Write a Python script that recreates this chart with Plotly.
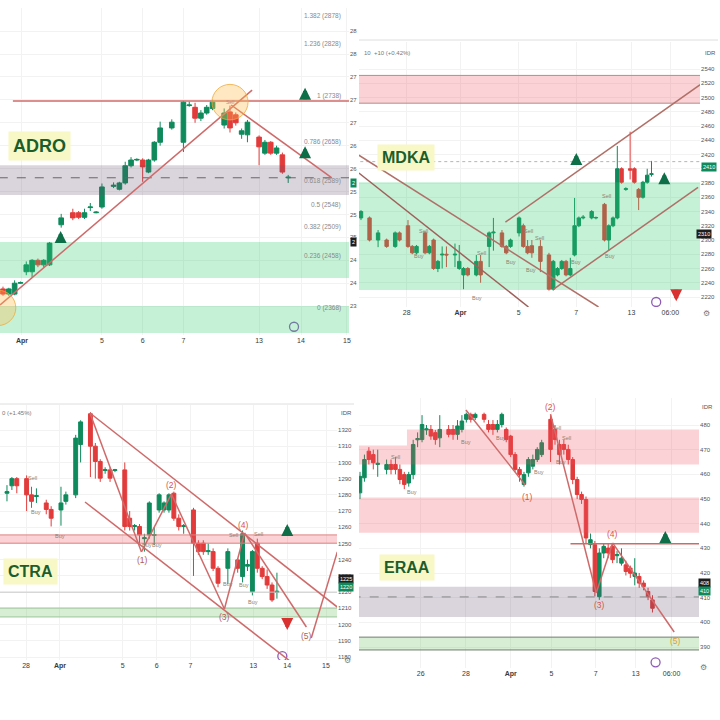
import plotly.graph_objects as go

W, H = 720, 720
FONT = "Liberation Sans, Arial, sans-serif"
GREEN = "#0e8a5c"
RED = "#e23b3b"
LINE_RED = "#cf6a6a"
LINE_BROWN = "#b07068"
ARROW_GREEN = "#0d6e48"
ARROW_RED = "#d93030"
ZONE_GREEN = "rgba(46,204,113,0.28)"
ZONE_RED = "rgba(240,80,90,0.25)"
ZONE_GRAY = "rgba(100,80,110,0.24)"
ZONE_GREEN2 = "rgba(110,190,100,0.28)"
LABEL_BG = "#f8f8c6"
LABEL_FG = "#1b5e2c"
PURPLE = "#8e5bb5"
TEXT_GRAY = "#8a8a8a"

# ====================== DATA ======================
# ---- ADRO (bar index, OHLC) ----
ADRO_X = [0, 1, 2, 3, 4, 5, 6, 7, 8, 10, 12, 13, 14, 15, 16, 17, 19, 20, 21, 22, 23, 24, 25, 26, 27,
          29, 31, 32, 33, 34, 35, 36, 38, 39, 40, 41, 42, 44, 45, 46, 47, 48, 49]
ADRO_OPEN = [2410, 2401, 2401, 2420, 2440, 2440, 2460, 2452, 2452, 2522, 2543, 2543, 2535, 2552, 2543, 2553,
             2589, 2584, 2595, 2625, 2635, 2635, 2614, 2635, 2666, 2691, 2666, 2730, 2727, 2708, 2717, 2725,
             2696, 2719, 2714, 2680, 2679, 2675, 2647, 2666, 2647, 2644, 2604]
ADRO_HIGH = [2414, 2412, 2425, 2423, 2458, 2462, 2463, 2462, 2492, 2541, 2550, 2546, 2550, 2560, 2546, 2594,
             2596, 2597, 2632, 2640, 2638, 2638, 2637, 2668, 2702, 2706, 2738, 2737, 2735, 2722, 2731, 2740,
             2725, 2730, 2718, 2690, 2705, 2678, 2670, 2668, 2660, 2648, 2609]
ADRO_LOW = [2398, 2398, 2399, 2419, 2434, 2430, 2448, 2448, 2450, 2517, 2530, 2532, 2532, 2546, 2542, 2550,
            2586, 2582, 2592, 2622, 2633, 2597, 2612, 2632, 2660, 2688, 2649, 2728, 2700, 2703, 2714, 2722,
            2690, 2683, 2695, 2672, 2666, 2626, 2644, 2644, 2644, 2611, 2595]
ADRO_CLOSE = [2401, 2410, 2420, 2421, 2452, 2460, 2452, 2460, 2490, 2534, 2534, 2535, 2543, 2553, 2544, 2588,
              2591, 2595, 2625, 2635, 2636, 2623, 2635, 2666, 2691, 2701, 2736, 2731, 2708, 2717, 2727, 2736,
              2717, 2691, 2700, 2686, 2701, 2658, 2666, 2647, 2656, 2614, 2605]
ADRO_XTICK_POS = [3.25, 17.0, 24.0, 31.0, 44.0, 51.2, 59.1]
ADRO_XTICK_TEXT = ["<b>Apr</b>", "5", "6", "7", "13", "14", "15"]
ADRO_YTICK_VALS = [2380, 2420, 2460, 2500, 2540, 2580, 2620, 2660, 2700, 2740, 2780, 2820, 2860]
ADRO_YTICK_TEXT = ["23", "24", "24", "25", "25", "25", "26", "26", "27", "27", "27", "28", "28"]
ADRO_FIB_RATIOS = ["0", "0.236", "0.382", "0.5", "0.618", "0.786", "1", "1.236", "1.382"]
ADRO_FIB_PRICES = [2368, 2458, 2509, 2548, 2589, 2658, 2738, 2828, 2878]
ADRO_RESISTANCE = 2738
ADRO_LAST = 2604
ADRO_GRAY_ZONE = (2574, 2626)
ADRO_GREEN_ZONES = [(2429, 2492), (2333, 2380)]
ADRO_TREND_UP = ([-0.5, 42.8], [2382, 2757])
ADRO_TREND_DOWN = ([39.2, 56.5], [2731, 2604])
ADRO_CIRCLES = [(39.0, 2736), (-0.9, 2377)]
ADRO_UP_ARROWS = [(51.9, 2761), (51.9, 2659), (9.9, 2511)]

# ---- MDKA ----
MDKA_X = [0, 2, 4, 6, 8, 9, 11, 12, 13, 15, 16, 17, 18, 19, 20, 22, 23, 24, 25, 27, 28, 30, 31, 33, 34, 35,
          37, 38, 39, 40, 42, 44, 45, 46, 47, 48, 49, 50, 51, 52, 54, 55, 57, 58, 59, 60, 61, 62, 63, 64,
          65, 66, 67, 68]
MDKA_OPEN = [2331, 2331, 2300, 2300, 2291, 2310, 2320, 2291, 2282, 2310, 2282, 2300, 2260, 2279, 2280,
             2279, 2260, 2251, 2260, 2251, 2270, 2291, 2310, 2310, 2291, 2291, 2310, 2320, 2291, 2292, 2291,
             2279, 2231, 2251, 2260, 2270, 2251, 2279, 2320, 2331, 2331, 2331, 2350, 2300, 2320, 2331,
             2400, 2371, 2400, 2400, 2371, 2360, 2381, 2392]
MDKA_HIGH = [2342, 2333, 2314, 2302, 2312, 2312, 2328, 2293, 2293, 2312, 2293, 2302, 2272, 2291, 2291,
             2295, 2293, 2262, 2262, 2279, 2279, 2312, 2331, 2314, 2293, 2302, 2333, 2323, 2300, 2300, 2300,
             2282, 2272, 2262, 2272, 2272, 2275, 2359, 2333, 2335, 2342, 2333, 2352, 2322, 2333, 2432,
             2402, 2374, 2452, 2402, 2373, 2383, 2400, 2411]
MDKA_LOW = [2328, 2298, 2290, 2289, 2289, 2298, 2289, 2280, 2280, 2280, 2280, 2258, 2255, 2260, 2262,
            2262, 2258, 2231, 2249, 2249, 2240, 2262, 2285, 2289, 2280, 2289, 2305, 2289, 2280, 2275, 2255,
            2229, 2229, 2249, 2258, 2249, 2249, 2277, 2318, 2329, 2329, 2329, 2298, 2285, 2318, 2329,
            2379, 2369, 2385, 2379, 2342, 2358, 2379, 2389]
MDKA_CLOSE = [2340, 2300, 2310, 2291, 2310, 2300, 2291, 2282, 2291, 2282, 2291, 2260, 2270, 2280, 2279,
              2280, 2270, 2260, 2251, 2270, 2251, 2310, 2311, 2291, 2282, 2300, 2331, 2291, 2282, 2282, 2270,
              2231, 2270, 2260, 2270, 2251, 2260, 2320, 2331, 2332, 2340, 2331.5, 2300, 2320, 2331, 2400,
              2381, 2372, 2398, 2381, 2360, 2381, 2391, 2393]
MDKA_XTICK_POS = [10.7, 23.3, 36.9, 50.4, 63.3, 72.4]
MDKA_XTICK_TEXT = ["28", "<b>Apr</b>", "5", "7", "13", "06:00"]
MDKA_YTICK_VALS = list(range(2220, 2541, 20))
MDKA_RED_ZONE = (2492, 2531)
MDKA_GREEN_ZONE = (2230, 2381)
MDKA_LAST = 2410
MDKA_LINE_A = ([-0.5, 39.2], [2394, 2206])
MDKA_LINE_B = ([-0.5, 55.6], [2419, 2206])
MDKA_CH_UP = ([33.8, 79.4], [2325, 2518])
MDKA_CH_LOW = ([45.1, 78.9], [2231, 2374])
MDKA_UP_ARROWS = [(50.4, 2422), (71.0, 2395)]
MDKA_DOWN_ARROWS = [(73.8, 2214)]
MDKA_SIGNALS = [(14.7, 2313, "Sell"), (13.5, 2278, "Buy"), (28.2, 2282, "Sell"), (27.1, 2219, "Buy"),
                (39.2, 2313, "Sell"), (35.0, 2269, "Buy"), (39.9, 2258, "Buy"), (41.8, 2303, "Sell"),
                (50.4, 2269, "Buy"), (57.4, 2362, "Sell"), (58.4, 2278, "Buy")]

# ---- CTRA ----
CTRA_X = [0, 1, 2, 4, 5, 6, 8, 9, 11, 12, 14, 15, 17, 18, 19, 20, 21, 22, 24, 25, 26, 27, 28, 29, 30, 31,
          32, 33, 34, 35, 36, 38, 39, 40, 41, 42, 43, 45, 47, 48, 49, 50, 51, 52, 53, 54, 55]
CTRA_OPEN = [1281, 1285.6, 1290, 1290, 1280, 1279, 1275, 1271, 1270.7, 1276, 1280, 1311, 1330, 1310, 1300.6,
             1295, 1295.4, 1295, 1295.4, 1265.6, 1260.5, 1260.5, 1253, 1255.3, 1255, 1270.7, 1270.7, 1270.7,
             1281, 1265.6, 1260.5, 1270.7, 1250.2, 1250.2, 1245, 1245, 1234.7, 1234.7, 1239.9, 1229.6, 1236,
             1220.3, 1250.2, 1234.7, 1229.6, 1224.4, 1220]
CTRA_HIGH = [1286, 1291, 1291, 1292, 1285, 1284, 1277, 1273, 1285, 1282, 1317, 1326, 1331, 1312, 1302, 1297,
             1297, 1296, 1300, 1270, 1262, 1262, 1256, 1276, 1260, 1281, 1276, 1281, 1282, 1268, 1262, 1272,
             1252, 1252, 1250, 1247, 1236, 1247, 1241, 1258, 1240, 1246, 1253, 1236, 1234, 1226, 1232]
CTRA_LOW = [1276, 1283, 1281, 1270, 1272, 1275, 1268, 1260.5, 1261, 1274, 1278, 1300, 1291, 1290, 1288, 1293,
            1288, 1294, 1258, 1258, 1258, 1250, 1245, 1253, 1249, 1269, 1269, 1269, 1264, 1258, 1256, 1230,
            1243, 1243, 1243, 1233, 1223, 1225, 1232, 1226, 1233, 1218, 1232, 1228, 1222, 1214, 1216]
CTRA_CLOSE = [1282, 1290, 1285.6, 1280, 1276, 1279.5, 1271, 1265.6, 1275, 1280, 1315, 1325, 1310, 1300.6,
              1290.3, 1295.5, 1290.3, 1295.5, 1260.5, 1260.5, 1261, 1255.3, 1253.5, 1275, 1255.5, 1280, 1275,
              1280, 1265.6, 1260.5, 1261, 1250.2, 1245, 1245, 1245.5, 1234.7, 1225.5, 1245, 1234.7, 1256,
              1237, 1245, 1234.7, 1229.6, 1224.4, 1215.2, 1220.5]
CTRA_XTICK_POS = [3.9, 10.8, 23.6, 30.5, 37.4, 50.2, 57.1, 65.0]
CTRA_XTICK_TEXT = ["28", "<b>Apr</b>", "5", "6", "7", "13", "14", "15"]
CTRA_YTICK_VALS = list(range(1180, 1321, 10))
CTRA_RED_ZONE = (1250.2, 1255.3)
CTRA_GREEN_ZONE = (1204.7, 1210.2)
CTRA_LAST = 1220
CTRA_CH_UP = ([16.9, 67.3], [1330.5, 1210.8])
CTRA_CH_LOW = ([15.9, 57.9], [1275.6, 1176.9])
CTRA_WAVE_X = [16.9, 27.4, 33.5, 44.3, 48.4, 61.0]
CTRA_WAVE_Y = [1330.5, 1244.8, 1280.5, 1209.6, 1256.5, 1198.5]
CTRA_PROJ = ([62.0, 67.3], [1191.7, 1244.8])
CTRA_WAVE_LABELS = [(27.6, 1239.8, "(1)"), (33.5, 1286.1, "(2)"), (44.3, 1204.7, "(3)"),
                    (48.2, 1261.4, "(4)"), (61.0, 1193.0, "(5)")]
CTRA_UP_ARROWS = [(57.1, 1262)]
CTRA_DOWN_ARROWS = [(57.1, 1196.7)]
CTRA_SIGNALS = [(5.9, 1269.4, "Buy"), (10.8, 1254.6, "Buy"), (28.5, 1249.1, "Buy"), (30.5, 1249.1, "Buy"),
                (45.1, 1225.0, "Buy"), (48.2, 1224.4, "Buy"), (50.2, 1213.9, "Buy"),
                (46.1, 1255.2, "Sell"), (51.2, 1255.9, "Sell"), (5.1, 1290.4, "Sell")]

# ---- ERAA ----
ERAA_X = [0, 1, 2, 3, 4, 6, 7, 8, 9, 10, 11, 12, 13, 14, 15, 16, 17, 18, 20, 21, 22, 23, 24, 25, 26, 28, 29,
          30, 31, 32, 33, 34, 35, 36, 37, 38, 39, 40, 41, 43, 44, 45, 46, 47, 48, 49, 50, 51, 52, 53, 54,
          55, 56, 57, 58, 59, 60, 61, 62, 63, 64, 65, 66]
ERAA_OPEN = [452.5, 458.6, 469.4, 468, 464, 462, 464, 464, 462, 459.9, 456.5, 459.9, 474, 474.1, 478, 478.2,
             476.9, 474.8, 478.2, 478.2, 476.2, 478.2, 482.3, 484.3, 483, 484.3, 480.2, 480.2, 478.2, 480.2,
             478.2, 475.5, 468, 462, 455.9, 460.6, 463.3, 466, 468, 482.3, 478.2, 472.1, 472.1, 470.1, 466,
             457.9, 451.8, 449.8, 431.5, 431.5, 410.4, 428.1, 430.1, 430.8, 427, 424, 423.3, 422, 418.6,
             418.6, 415.9, 412.5, 409.1]
ERAA_HIGH = [461, 468, 471, 470, 470, 466, 466, 467, 464, 461, 461, 474, 477, 484, 480, 480, 478, 484, 480,
             480, 482, 484, 485, 485, 485, 485, 482, 482, 482, 485, 479, 476, 469, 463, 461, 467, 468, 471,
             474, 484.3, 480, 474, 474, 472, 467, 459, 453, 451, 436, 433, 430, 432, 432, 432, 429, 430,
             425, 423, 426, 420, 417, 414, 411]
ERAA_LOW = [450, 457, 464, 462, 459, 460, 460, 460, 456, 454, 455, 458, 471, 473, 476, 474, 472, 471, 475,
            474, 474, 477, 481, 481, 482, 481, 477, 476, 477, 479, 473, 467, 461, 457, 455, 459, 462, 465,
            467, 465, 472, 464, 468, 464, 456, 450, 448, 432, 430, 410.5, 409.1, 426, 426, 424, 424, 423,
            419, 418, 415, 414, 413, 409, 404]
ERAA_CLOSE = [459.2, 466, 466, 464.7, 464.5, 464, 462, 462, 457.9, 455.9, 459.9, 472.1, 474.5, 480.2, 478.4,
              475.5, 474.1, 478.2, 476.2, 476.2, 479.6, 481.6, 484.3, 482.3, 484.3, 482.3, 478.2, 478.2,
              480.2, 484.3, 474.1, 468, 462, 459.9, 459.9, 466, 466, 470.1, 472.8, 470.1, 474.1, 468, 470.1,
              466, 457.9, 451.8, 449.8, 434.2, 433.5, 412.5, 428.1, 430.8, 428.1, 425.4, 427.5, 426, 420.6,
              419.9, 420, 415.9, 414.5, 410.4, 405.7]
ERAA_XTICK_POS = [13.7, 23.9, 34.0, 43.2, 53.2, 62.2, 70.3]
ERAA_XTICK_TEXT = ["26", "28", "<b>Apr</b>", "5", "7", "13", "06:00"]
ERAA_YTICK_VALS = list(range(390, 481, 10))
ERAA_RED_ZONES = [(10.6, 90, 464.0, 478.2), (-5, 10.6, 464.0, 471.7), (-5, 90, 436.3, 450.6)]
ERAA_GRAY_ZONE = (402.2, 414.4)
ERAA_GREEN_ZONE = (388.8, 394.0)
ERAA_LAST = 410.3
ERAA_HLINE = (47.5, 431.9)
ERAA_DOWN1 = ([23.9, 37.3], [486.1, 455.7])
ERAA_WAVE_X = [43.0, 53.3, 57.0, 70.9]
ERAA_WAVE_Y = [484.3, 411.9, 432.2, 396.1]
ERAA_WAVE_LABELS = [(37.8, 450.8, "(1)"), (43.0, 487.3, "(2)"), (54.0, 407.0, "(3)"),
                    (57.0, 435.8, "(4)"), (71.2, 392.4, "(5)")]
ERAA_UP_ARROWS = [(68.9, 437)]
ERAA_SIGNALS = [(8.1, 467, "Sell"), (11.7, 452.8, "Buy"), (23.9, 473.1, "Buy"), (31.8, 474.7, "Buy"),
                (40.3, 461, "Buy"), (44.4, 478.8, "Sell"), (46.6, 474.7, "Sell"), (45.3, 465, "Buy")]


# ====================== LAYOUT HELPERS ======================
def lin(pa, va, pb, vb, p):
    return va + (p - pa) * (vb - va) / (pb - pa)


# pixel boxes (left, top, right, bottom) and pixel->value calibrations
PANELS = [
    dict(name="ADRO", xa="x", ya="y", box=(0, 8, 350, 335), xmap=(3, 0, 289, 49), ymap=(313, 2368, 101, 2738)),
    dict(name="MDKA", xa="x2", ya="y2", box=(360, 42, 702, 307), xmap=(362, 0, 653.3, 68), ymap=(297, 2220, 69, 2540)),
    dict(name="CTRA", xa="x3", ya="y3", box=(0, 405, 338, 660), xmap=(7, 0, 277.7, 55), ymap=(657, 1180, 430, 1320)),
    dict(name="ERAA", xa="x4", ya="y4", box=(360, 398, 701, 668), xmap=(361, 0, 654.3, 66), ymap=(647, 390, 425, 480)),
]

fig = go.Figure()

datasets = [
    (ADRO_X, ADRO_OPEN, ADRO_HIGH, ADRO_LOW, ADRO_CLOSE),
    (MDKA_X, MDKA_OPEN, MDKA_HIGH, MDKA_LOW, MDKA_CLOSE),
    (CTRA_X, CTRA_OPEN, CTRA_HIGH, CTRA_LOW, CTRA_CLOSE),
    (ERAA_X, ERAA_OPEN, ERAA_HIGH, ERAA_LOW, ERAA_CLOSE),
]
for p, (xs, o, h, l, c) in zip(PANELS, datasets):
    fig.add_trace(go.Candlestick(
        x=xs, open=o, high=h, low=l, close=c, xaxis=p["xa"], yaxis=p["ya"],
        increasing=dict(line=dict(color=GREEN, width=1), fillcolor=GREEN),
        decreasing=dict(line=dict(color=RED, width=1), fillcolor=RED),
        whiskerwidth=0, hoverinfo="skip", showlegend=False))

xticks = [(ADRO_XTICK_POS, ADRO_XTICK_TEXT), (MDKA_XTICK_POS, MDKA_XTICK_TEXT),
          (CTRA_XTICK_POS, CTRA_XTICK_TEXT), (ERAA_XTICK_POS, ERAA_XTICK_TEXT)]
yticks = [(ADRO_YTICK_VALS, ADRO_YTICK_TEXT),
          (MDKA_YTICK_VALS, [str(v) for v in MDKA_YTICK_VALS]),
          (CTRA_YTICK_VALS, [str(v) for v in CTRA_YTICK_VALS]),
          (ERAA_YTICK_VALS, [str(v) for v in ERAA_YTICK_VALS])]

layout = dict(
    width=W, height=H, margin=dict(l=0, r=0, t=0, b=0),
    paper_bgcolor="white", plot_bgcolor="white", showlegend=False,
    font=dict(family=FONT, size=7, color="#444"),
    boxgap=0.12, boxgroupgap=0.1,
)
for p, (xv, xt), (yv, yt) in zip(PANELS, xticks, yticks):
    L, T, R, B = p["box"]
    xa0, xv0, xa1, xv1 = p["xmap"]
    ya0, yv0, ya1, yv1 = p["ymap"]
    xkey = "xaxis" + p["xa"][1:]
    ykey = "yaxis" + p["ya"][1:]
    layout[xkey] = dict(
        domain=[L / W, R / W], anchor=p["ya"],
        range=[lin(xa0, xv0, xa1, xv1, L), lin(xa0, xv0, xa1, xv1, R)],
        tickmode="array", tickvals=xv, ticktext=xt, ticks="",
        tickfont=dict(size=7, color="#3a3a3a"), ticklabelstandoff=0,
        showgrid=True, gridcolor="#f2f2f2", zeroline=False, showline=False,
        rangeslider=dict(visible=False), fixedrange=True)
    layout[ykey] = dict(
        domain=[1 - B / H, 1 - T / H], anchor=p["xa"], side="right",
        range=[lin(ya0, yv0, ya1, yv1, B), lin(ya0, yv0, ya1, yv1, T)],
        tickmode="array", tickvals=yv, ticktext=yt, ticks="",
        tickfont=dict(size=6, color="#555"), ticklabelstandoff=0,
        showgrid=True, gridcolor="#f2f2f2", zeroline=False, showline=False, fixedrange=True)

shapes = []
annotations = []


def zone(xa, ya, lo, hi, color, x0=-10, x1=100, border=None):
    shapes.append(dict(type="rect", xref=xa, yref=ya, x0=x0, x1=x1, y0=lo, y1=hi,
                       fillcolor=color, line=dict(width=1 if border else 0, color=border or color),
                       layer="above"))


def seg(xa, ya, xs, ys, color=LINE_RED, width=1.5, dash="solid"):
    for i in range(len(xs) - 1):
        shapes.append(dict(type="line", xref=xa, yref=ya, x0=xs[i], x1=xs[i + 1], y0=ys[i], y1=ys[i + 1],
                           line=dict(color=color, width=width, dash=dash), layer="above"))


def hline(xa, ya, y, color, width=1, dash="solid", x0=-10, x1=100):
    shapes.append(dict(type="line", xref=xa, yref=ya, x0=x0, x1=x1, y0=y, y1=y,
                       line=dict(color=color, width=width, dash=dash), layer="above"))


def arrow(xa, ya, x, y, up=True):
    annotations.append(dict(xref=xa, yref=ya, x=x, y=y, ax=0, ay=13 if up else -13, text="",
                            showarrow=True, arrowhead=2, arrowsize=0.6, arrowwidth=4,
                            arrowcolor=ARROW_GREEN if up else ARROW_RED))


def text(xa, ya, x, y, s, size=6, color=TEXT_GRAY, **kw):
    annotations.append(dict(xref=xa, yref=ya, x=x, y=y, text=s, showarrow=False,
                            font=dict(size=size, color=color, family=FONT), **kw))


def label(xa, ya, x, y, s, size):
    annotations.append(dict(xref=xa, yref=ya, x=x, y=y, text="<b>%s</b>" % s, showarrow=False,
                            bgcolor=LABEL_BG, borderpad=4,
                            font=dict(size=size, color=LABEL_FG, family=FONT)))


def tag(px, py, s, bg, anchor="left"):
    annotations.append(dict(xref="paper", yref="paper", x=px / W, y=1 - py / H, text=s, showarrow=False,
                            xanchor=anchor, bgcolor=bg, borderpad=1,
                            font=dict(size=5.5, color="white", family=FONT)))


def icon(xa, ya, x, y):
    fig.add_trace(go.Scatter(x=[x], y=[y], xaxis=xa, yaxis=ya, mode="markers", hoverinfo="skip",
                             marker=dict(symbol="circle-open", size=9, color=PURPLE, line=dict(width=1.3)),
                             showlegend=False))


# ---------- ADRO ----------
zone("x", "y", *ADRO_GRAY_ZONE, ZONE_GRAY)
for lo, hi in ADRO_GREEN_ZONES:
    zone("x", "y", lo, hi, ZONE_GREEN)
hline("x", "y", ADRO_LAST, "#666", 1, "dash")
hline("x", "y", ADRO_RESISTANCE, LINE_RED, 1.5, x0=1.7)
seg("x", "y", *ADRO_TREND_UP)
seg("x", "y", *ADRO_TREND_DOWN)
for cx, cy in ADRO_CIRCLES:
    shapes.append(dict(type="circle", xref="x", yref="y", x0=cx - 3.1, x1=cx + 3.1, y0=cy - 31, y1=cy + 31,
                       fillcolor="rgba(255,190,80,0.35)", line=dict(color="rgba(240,170,60,0.8)", width=1),
                       layer="above"))
text("x", "y", ADRO_CIRCLES[0][0], ADRO_CIRCLES[0][1], "Sell", 5, "#c08a80")
for r, pr in zip(ADRO_FIB_RATIOS, ADRO_FIB_PRICES):
    text("x", "y", 58.5, pr, "%s (%d)" % (r, pr), 6.5, "#7d8aa6" if r == "0.786" else "#8a8a8a",
         xanchor="right", yshift=5)
for ax_, ay_ in ADRO_UP_ARROWS:
    arrow("x", "y", ax_, ay_, True)
icon("x", "y", 50.0, 2344)
label("x", "y", 6.2, 2659, "ADRO", 18)
tag(351, 178, "2", GREEN)
tag(351, 237, "2", "#1e1e1e")

# ---------- MDKA ----------
zone("x2", "y2", *MDKA_RED_ZONE, ZONE_RED, border="#b58c8c")
zone("x2", "y2", *MDKA_GREEN_ZONE, ZONE_GREEN)
hline("x2", "y2", MDKA_LAST, "#b5b5b5", 1, "dot")
seg("x2", "y2", *MDKA_LINE_A, color="#a0605a")
seg("x2", "y2", *MDKA_LINE_B, color=LINE_BROWN)
seg("x2", "y2", *MDKA_CH_UP, color=LINE_BROWN)
seg("x2", "y2", *MDKA_CH_LOW, color=LINE_BROWN)
for ax_, ay_ in MDKA_UP_ARROWS:
    arrow("x2", "y2", ax_, ay_, True)
for ax_, ay_ in MDKA_DOWN_ARROWS:
    arrow("x2", "y2", ax_, ay_, False)
for sx, sy, s in MDKA_SIGNALS:
    text("x2", "y2", sx, sy, s, 5.5, "#8f7f70")
icon("x2", "y2", 69.1, 2213)
label("x2", "y2", 10.5, 2416, "MDKA", 16)
tag(703, 162, "2410", GREEN)
tag(698, 229, "2310", "#1e1e1e")
text("paper", "paper", 363 / W, 1 - 48 / H, "10  +10 (+0.42%)", 6, "#777", xanchor="left")
text("paper", "paper", 705 / W, 1 - 48 / H, "IDR", 6, "#555", xanchor="left")
text("paper", "paper", 714 / W, 1 - 313 / H, "⚙", 8, "#777")

# ---------- CTRA ----------
zone("x3", "y3", *CTRA_RED_ZONE, ZONE_RED, border="#e08080")
zone("x3", "y3", *CTRA_GREEN_ZONE, ZONE_GREEN2, border="#9cc79c")
hline("x3", "y3", CTRA_LAST, "#c8c8c8", 1)
seg("x3", "y3", *CTRA_CH_UP)
seg("x3", "y3", *CTRA_CH_LOW)
seg("x3", "y3", CTRA_WAVE_X, CTRA_WAVE_Y)
seg("x3", "y3", *CTRA_PROJ)
for lx, ly, s in CTRA_WAVE_LABELS:
    text("x3", "y3", lx, ly, s, 8.5, "#d9534f" if s in ("(2)", "(4)") else "#b0605a")
for ax_, ay_ in CTRA_UP_ARROWS:
    arrow("x3", "y3", ax_, ay_, True)
for ax_, ay_ in CTRA_DOWN_ARROWS:
    arrow("x3", "y3", ax_, ay_, False)
for sx, sy, s in CTRA_SIGNALS:
    text("x3", "y3", sx, sy, s, 5.5, "#8f7f70")
icon("x3", "y3", 56.1, 1180.5)
label("x3", "y3", 4.7, 1233, "CTRA", 16)
tag(339, 584, "1225", "#1e1e1e")
tag(339, 592, "1220", GREEN)
text("paper", "paper", 0, 1 - 413 / H, "0 (+1.45%)", 6, "#777", xanchor="left")
text("paper", "paper", 340 / W, 1 - 413 / H, "IDR", 6, "#555", xanchor="left")
text("paper", "paper", 348 / W, 1 - 667 / H, "⚙", 8, "#777")

# ---------- ERAA ----------
for x0, x1, lo, hi in ERAA_RED_ZONES:
    zone("x4", "y4", lo, hi, ZONE_RED, x0=x0, x1=x1)
zone("x4", "y4", *ERAA_GRAY_ZONE, ZONE_GRAY)
zone("x4", "y4", *ERAA_GREEN_ZONE, ZONE_GREEN2, border="#6f7f6c")
hline("x4", "y4", ERAA_LAST, "#888", 1, "dash")
hline("x4", "y4", ERAA_HLINE[1], LINE_RED, 1.5, x0=ERAA_HLINE[0])
seg("x4", "y4", *ERAA_DOWN1)
seg("x4", "y4", ERAA_WAVE_X, ERAA_WAVE_Y)
for lx, ly, s in ERAA_WAVE_LABELS:
    text("x4", "y4", lx, ly, s, 8.5, "#e0a030" if s == "(5)" else "#d9534f")
for ax_, ay_ in ERAA_UP_ARROWS:
    arrow("x4", "y4", ax_, ay_, True)
for sx, sy, s in ERAA_SIGNALS:
    text("x4", "y4", sx, sy, s, 5.5, "#8f7f70")
icon("x4", "y4", 66.7, 383.8)
label("x4", "y4", 10.6, 422.4, "ERAA", 16)
tag(700, 588, "408", "#1e1e1e")
tag(700, 596, "410", GREEN)
text("paper", "paper", 702 / W, 1 - 407 / H, "IDR", 6, "#555", xanchor="left")
text("paper", "paper", 711 / W, 1 - 674 / H, "⚙", 8, "#777")

# header separators
shapes.append(dict(type="line", xref="paper", yref="paper", x0=360 / W, x1=1, y0=1 - 40 / H, y1=1 - 40 / H,
                   line=dict(color="#dedede", width=1)))
shapes.append(dict(type="line", xref="paper", yref="paper", x0=0, x1=355 / W, y0=1 - 404 / H, y1=1 - 404 / H,
                   line=dict(color="#dedede", width=1)))

layout["shapes"] = shapes
layout["annotations"] = annotations
fig.update_layout(**layout)
fig.write_html("out.html", config={"displayModeBar": False},
               post_script="document.body.style.margin='0';document.body.style.overflow='hidden';")
